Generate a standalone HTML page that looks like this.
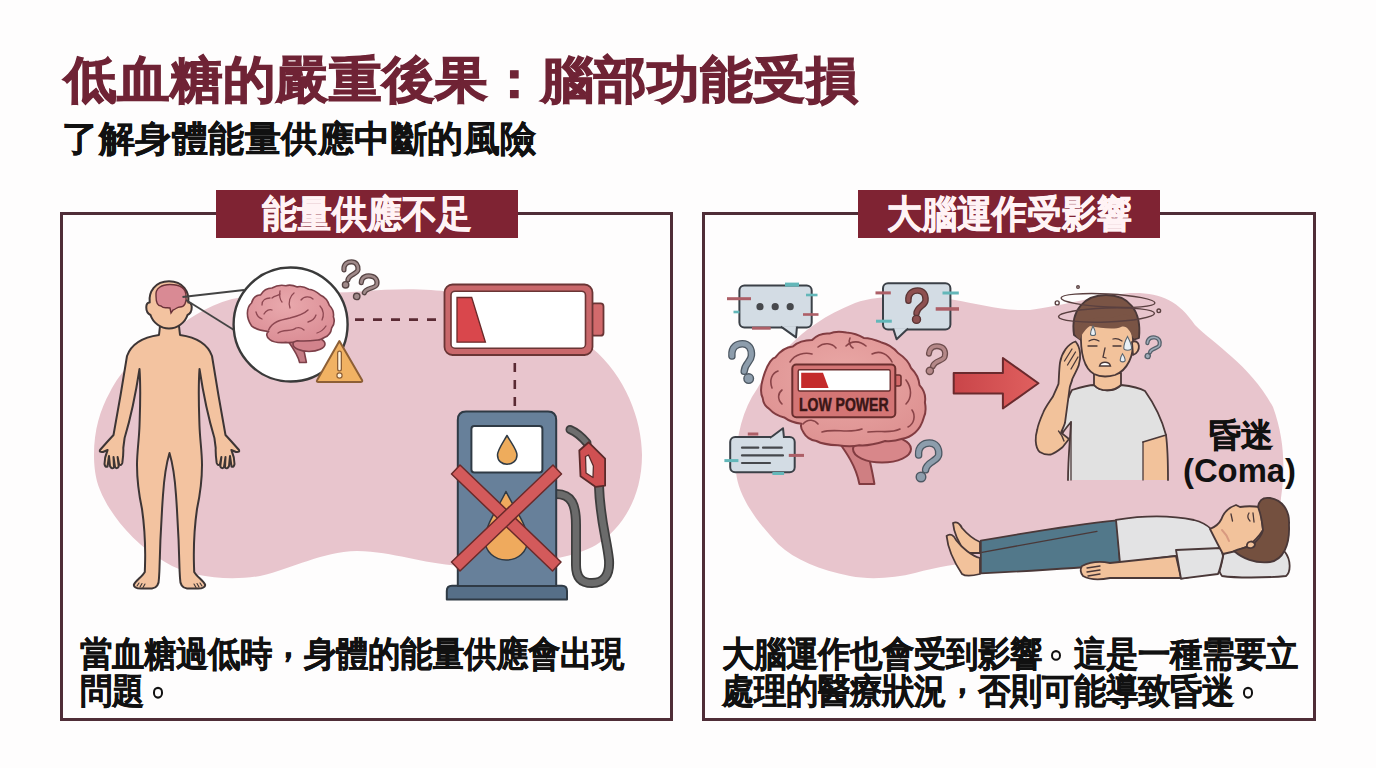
<!DOCTYPE html>
<html lang="zh-Hant"><head><meta charset="utf-8"><title>低血糖的嚴重後果</title>
<style>
html,body{margin:0;padding:0;}
body{width:1376px;height:768px;overflow:hidden;position:relative;background:#fefdfd;font-family:"Liberation Sans",sans-serif;font-weight:bold;}
.a{position:absolute;white-space:nowrap;}
#title{left:64px;top:49px;font-size:52.8px;line-height:64px;transform:scaleY(0.95);transform-origin:0 0;color:#6f2335;-webkit-text-stroke:1.2px #6f2335;}
#sub{left:62px;top:117px;font-size:36.3px;letter-spacing:0.5px;line-height:44px;color:#111;-webkit-text-stroke:0.45px #111;}
.panel{position:absolute;top:212px;height:503px;border:3px solid #4f2d37;}
#p1{left:60px;width:607px;}
#p2{left:702px;width:608px;}
.tab{position:absolute;top:190px;height:48px;width:302px;background:#7f2333;color:#fff3f5;font-size:35px;line-height:48px;text-align:center;-webkit-text-stroke:0.6px #fff3f5;}
.tab span{display:inline-block;transform:scaleY(1.09);}
#t1{left:216px;}
#t2{left:858px;}
.txt{position:absolute;font-size:32px;line-height:34.2px;color:#111;-webkit-text-stroke:0.4px #111;transform:scaleY(1.08);transform-origin:0 0;}
.pc{position:relative;top:-9px;}
.pd{display:inline-block;width:32px;height:0;position:relative;}
.pd::after{content:"";position:absolute;left:8.5px;top:-15px;width:6.4px;height:6.4px;border:2.8px solid #111;border-radius:50%;}
#x1{left:80px;top:636px;}
#x2{left:722px;top:636px;}
svg{position:absolute;left:0;top:0;}
</style></head><body>
<div class="a" id="title">低血糖的嚴重後果：腦部功能受損</div>
<div class="a" id="sub">了解身體能量供應中斷的風險</div>
<div class="panel" id="p1"></div>
<div class="panel" id="p2"></div>
<svg id="ill" width="1376" height="768" viewBox="0 0 1376 768">

<defs>
<linearGradient id="arrowg" x1="0" x2="1" y1="0" y2="0"><stop offset="0" stop-color="#c94549"/><stop offset="1" stop-color="#e0605f"/></linearGradient>
</defs>
<!-- LEFT BLOB -->
<path id="blobL" fill="#e8c5cd" d="M94 455 C94 430 100 410 110 392 C120 372 140 350 165 335 C185 322 205 306 232 299 C270 292 320 294 360 291.5 C400 288 430 289 450 292 C520 302 560 320 592 348 C625 375 642 420 642 455 C642 500 620 530 596 545 C570 560 520 566 460 566 C420 563 395 552 357 551 C320 552 295 568 260 576 C230 581 190 578 165 562 C135 545 110 515 100 490 C95 478 94 465 94 455 Z"/>
<!-- RIGHT BLOB -->
<path id="blobR" fill="#e8c5cd" d="M736 472 C735 440 742 410 757 389 C765 375 775 362 790 345 C805 330 825 315 855 303 C880 294 920 296 952 299.5 C980 304 1000 311 1030 310 C1060 306 1090 297 1130 293 C1160 292 1178 300 1195 325 C1215 345 1250 365 1273 407 C1285 440 1285 470 1281 498 C1278 540 1270 560 1240 568 C1180 572 1060 566 990 563 C960 562 940 567 915 573 C895 578 870 580 850 576 C820 570 795 560 778 544 C755 520 738 495 736 472 Z"/>
<!-- BODY -->
<g stroke="#3d3535" stroke-width="2" stroke-linejoin="round" stroke-linecap="round">
<path fill="#f3c3a0" d="M160 326 L 159 335 C 145 337 132 342 127 356 C 124 375 119 405 113.5 435 L 108 441 L 100 450 Q 99 452.5 103 452 L 107.6 450 C 105.5 455 104.5 461 104.5 464 Q 105 467.5 107.5 466.5 L 109 456 L 110 466 Q 111.5 469.5 114 467.5 L 113.5 457 L 115 467 Q 117 469.5 118.7 466.5 L 117.6 457 L 119 464 Q 121 466.5 122.3 463 C 123 458 123.5 452 123.3 448 L 124.6 438 C 130 420 136 392 139.5 369 C 141 390 140 410 139.5 426 C 139 440 137 452 137 465 C 137 480 139 495 142 509 C 145 530 145.5 550 145 566 L 144.8 572 C 142 577 135 581 133.8 585 C 134 588 137 588.5 141 588.5 L 152 588.5 C 157 588 159 584 159 578 L 159.4 571 C 160 545 161 523 163 495 C 164 480 165 468 169.5 453 C 174 468 175 480 176 495 C 178 523 179 545 179.6 571 L 180 578 C 180 584 182 588 187 588.5 L 198 588.5 C 202 588.5 205 588 205.2 585 C 204 581 197 577 194.2 572 L 194 566 C 193.5 550 194 530 197 509 C 200 495 202 480 202 465 C 202 452 200 440 199.5 426 C 199 410 198 390 199.5 369 C 203 392 209 420 214.4 438 L 215.7 448 C 215.5 452 216 458 216.7 463 Q 218 466.5 220 464 L 221.4 457 L 220.3 466.5 Q 222 469.5 224 467 L 225.5 457 L 225 467.5 Q 227.5 469.5 229 466 L 230 456 L 231.5 466.5 Q 234 467.5 234.5 464 C 234.5 461 233.5 455 231.4 450 L 236 452 Q 240 452.5 239 450 L 231 441 L 225.5 435 C 220 405 215 375 212 356 C 207 342 194 337 180 335 L 179 326 Z"/>
<g stroke-width="1.1" fill="none"><path d="M137 586 L139 583"/><path d="M140 587 L142 583.5"/><path d="M143 587.5 L145 584"/><path d="M202 586 L200 583"/><path d="M199 587 L197 583.5"/><path d="M196 587.5 L194 584"/></g>
<path fill="#f3c3a0" d="M169 281.3 C183 281.3 189.5 292 188.3 302.5 C192.5 301.5 193.5 312 187.5 315 C185 323 177 328.5 169 328.5 C161 328.5 153 323 150.5 315 C144.5 312 145.5 301.5 149.7 302.5 C148.5 292 155 281.3 169 281.3 Z"/>
</g>
<path fill="#d98a94" stroke="#6a3238" stroke-width="1.4" d="M156 296 C155 288 162 284.5 170 284.5 C180 284.5 186 288 186 296 C187 303 184 307 180 307 C177 307 176 309 173 310 L171 313 L170 308 C166 307 164 309 161 306 C158 306 156 302 156 296 Z"/>
<g stroke="#444" stroke-width="1.8" fill="none"><path d="M182.5 297 L244 290"/><path d="M186 300 L234 330"/></g>
<!-- MAGNIFIER -->
<circle cx="290.6" cy="324.5" r="57" fill="#fff" stroke="#3a3a3a" stroke-width="2.4"/>
<defs><radialGradient id="bg1" cx="0.45" cy="0.35" r="0.7"><stop offset="0" stop-color="#e9a9ad"/><stop offset="1" stop-color="#da8c94"/></radialGradient>
<radialGradient id="bg2" cx="0.5" cy="0.4" r="0.7"><stop offset="0" stop-color="#eaa9a7"/><stop offset="1" stop-color="#dc8e8e"/></radialGradient></defs>
<g stroke="#7d4049" stroke-width="1.6" stroke-linejoin="round">
<path fill="#c57c85" d="M288 341 C293 348 298 355 299.6 362.5 L306.4 362.5 C305 355 303 348 303 341 Z"/>
<ellipse cx="309" cy="344" rx="16" ry="7.5" fill="#d2838c"/>
<path fill="url(#bg1)" d="M251.5 325.8 C246 318 246 308 251.5 303 C253 297 257 295 260.6 294.9 C264 289 268 288 272 288 C277 285 282 285 285.8 285.7 C290 284.5 294 285.5 297.3 286.9 C301 286 305 287 308.7 289.2 C313 289.5 317 292 320.2 294.9 C325 297 328 301 329.3 305.2 C333 309 334 313 333.4 316.7 C335 321 334 325 331.6 328.1 C331 333 328 336 324.8 337.3 C322 339 320 340 318 340 C310 341 304 341.5 297.3 340.7 C293 342.5 289 343 285.8 342.4 C279 343 273 342 269.8 339.6 C266 337 266 333 268.6 331.5 C262 331 256 329.5 251.5 325.8 Z"/>
</g>
<g stroke="#8e4852" stroke-width="1.3" fill="none" stroke-linecap="round">
<path d="M268.6 330 C272 322 280 320 290 318 C298 316 304 314 308 310" stroke-width="1.5"/>
<path d="M262 305 C262 300 266 298 270 298"/><path d="M256 312 C257 316 259 318 262 319"/>
<path d="M264 314 C266 310 270 309 272 310"/><path d="M280 291 C279 295 280 300 282 302"/>
<path d="M290 308 C288 302 290 296 294 293"/><path d="M301 300 C304 296 310 296 313 299"/>
<path d="M320 306 C324 310 324 316 322 320"/><path d="M308 322 C312 321 315 318 316 315"/>
<path d="M278 333 C283 329 292 332 296 328 C299 327 302 328 304 330"/><path d="M317 333 C320 332 324 329 326 326"/>
<path d="M272 298 C275 295 278 296 280 294"/>
</g>
<!-- warning -->
<path d="M339.4 341 L362 380 Q363 382 360.5 382 L318.5 382 Q316 382 317.2 380 Z" fill="#f1b263" stroke="#8d5f36" stroke-width="2" stroke-linejoin="round"/>
<path d="M339.5 353 L339.5 369" stroke="#8d5f36" stroke-width="5" stroke-linecap="round"/>
<path d="M339.5 353 L339.5 369" stroke="#fff4e0" stroke-width="2.4" stroke-linecap="round"/>
<circle cx="339.5" cy="375.5" r="2.6" fill="#fff4e0" stroke="#8d5f36" stroke-width="1.2"/>
<!-- question marks left -->
<g><path d="M343.9 269.9 C343.4 263.7 347.9 261.8 351.5 261.8 C356.0 261.8 358.3 265.1 358.0 269.6 C357.6 274.0 348.4 274.5 347.9 279.9" fill="none" stroke="#574545" stroke-width="5.2" stroke-linecap="round" stroke-linejoin="round"/><path d="M343.9 269.9 C343.4 263.7 347.9 261.8 351.5 261.8 C356.0 261.8 358.3 265.1 358.0 269.6 C357.6 274.0 348.4 274.5 347.9 279.9" fill="none" stroke="#a08a8a" stroke-width="2.6" stroke-linecap="round" stroke-linejoin="round"/><circle cx="345.6" cy="284.8" r="3.2" fill="#a08a8a" stroke="#574545" stroke-width="1.4"/></g><g transform="rotate(8 368.0 288.0)"><path d="M360.6 283.6 C360.0 277.6 365.0 275.8 369.0 275.8 C374.0 275.8 376.6 278.9 376.2 283.3 C375.8 287.5 365.6 288.0 365.0 293.2" fill="none" stroke="#574545" stroke-width="5.2" stroke-linecap="round" stroke-linejoin="round"/><path d="M360.6 283.6 C360.0 277.6 365.0 275.8 369.0 275.8 C374.0 275.8 376.6 278.9 376.2 283.3 C375.8 287.5 365.6 288.0 365.0 293.2" fill="none" stroke="#a08a8a" stroke-width="2.6" stroke-linecap="round" stroke-linejoin="round"/><circle cx="358.0" cy="297.9" r="3.2" fill="#a08a8a" stroke="#574545" stroke-width="1.4"/></g>
<!-- dashes -->
<path d="M355 319.6 L437 319.6" stroke="#5a2a33" stroke-width="2.6" stroke-dasharray="9 9"/>
<path d="M514.8 363 L514.8 406" stroke="#5a2a33" stroke-width="2.6" stroke-dasharray="9 8"/>
<!-- battery -->
<rect x="591" y="303.4" width="12.5" height="32.3" rx="3" fill="#d26a6c" stroke="#6a3535" stroke-width="1.8"/>
<rect x="444.5" y="284.5" width="148" height="70.5" rx="8" fill="#c9686b" stroke="#6a3535" stroke-width="1.8"/>
<rect x="451" y="291.2" width="134.5" height="57" rx="4" fill="#fff" stroke="#6a3535" stroke-width="1.6"/>
<path d="M457 297.5 L471.7 297.5 L485.4 342.2 L457 342.2 Z" fill="#d9474c" stroke="#6a2a2a" stroke-width="1.3"/>
<!-- gas pump -->
<g stroke="#2f3a45" stroke-width="2" stroke-linejoin="round">
<path d="M556 494 C572 494 576 505 576 525 L576 565 C576 578 582 583 592 583 C604 583 610 575 609 560 C607 540 600 520 599 486" fill="none" stroke="#3e3e3e" stroke-width="10" stroke-linecap="round"/>
<path d="M556 494 C572 494 576 505 576 525 L576 565 C576 578 582 583 592 583 C604 583 610 575 609 560 C607 540 600 520 599 486" fill="none" stroke="#6b6b6b" stroke-width="6.5" stroke-linecap="round"/>
<path d="M570 429.5 C576 432 582 437 587 443" fill="none" stroke="#3e3e3e" stroke-width="9" stroke-linecap="round"/>
<path d="M570 429.5 C576 432 582 437 587 443" fill="none" stroke="#6e6e6e" stroke-width="5.5" stroke-linecap="round"/>
<path d="M579.3 450.5 L588.7 442.3 L605.1 458.7 L605.1 485.7 L595.7 486.9 L580.5 476.3 Z" fill="#cf5052" stroke="#5a2a2a" stroke-width="1.8"/>
<path d="M585.5 456.5 L588.5 455 L593.4 466 L593 477.5 L586 473 Z" fill="#f6eded" stroke="#5a2a2a" stroke-width="1.3"/>
<path d="M446.8 599.5 L446.8 591 Q446.8 585.8 452 585.8 L562 585.8 Q567 585.8 567 591 L567 599.5 Z" fill="#566f88"/>
<path d="M457.8 586 L457.8 420 Q457.8 411.5 466 411.5 L548 411.5 Q556.2 411.5 556.2 420 L556.2 586 Z" fill="#67809a"/>
<rect x="471.4" y="426" width="71" height="46.4" rx="3" fill="#fff"/>
<path d="M507 435.5 C502 444 497.5 450 497.5 455 C497.5 461 502 464.2 507 464.2 C512 464.2 517 461 517 455 C517 450 512 444 507 435.5 Z" fill="#eeac5c" stroke-width="1.5"/>
<path d="M506 491.5 C497 510 485 525 485 540 C485 552 495 560 506 560 C518 560 527.5 552 527.5 540 C527.5 525 515 510 506 491.5 Z" fill="#efaa5d" stroke-width="1.5"/>
<g fill="#d35a5b" stroke="#6a2a2a" stroke-width="1.5">
<path d="M451.5 474 L460 465 L561 562 L552.5 571 Z"/>
<path d="M553 465 L561.5 474 L460 571 L451.5 562 Z"/>
</g>
</g>

<rect x="739.4" y="285.6" width="72.30000000000007" height="42.0" rx="5" fill="#d3dce4" stroke="#3b4047" stroke-width="2"/><path d="" fill="#d3dce4" stroke="#3b4047" stroke-width="2" stroke-linejoin="round"/>
<path d="M781 326.6 L796 337.4 L797 326.6" fill="#d3dce4" stroke="#3b4047" stroke-width="2" stroke-linejoin="round"/><path d="M782.5 325.5 L795.5 325.5" stroke="#d3dce4" stroke-width="2.5"/>
<circle cx="760" cy="306.7" r="3.6" fill="#46484c"/>
<circle cx="775.2" cy="306.7" r="3.6" fill="#46484c"/>
<circle cx="790.2" cy="306.7" r="3.6" fill="#46484c"/>
<rect x="727" y="297.2" width="24" height="3" fill="#ad5f67"/>
<rect x="803" y="313.2" width="15.5" height="2.6" fill="#ad5f67"/>
<rect x="752" y="326.7" width="18.700000000000045" height="3" fill="#ad5f67"/>
<rect x="785" y="282.6" width="14" height="4" fill="#63b7b9"/>
<rect x="806" y="293.7" width="11.5" height="2.6" fill="#63b7b9"/>
<rect x="733.5" y="310.7" width="5.899999999999977" height="2.6" fill="#63b7b9"/>
<rect x="883" y="283.3" width="67.39999999999998" height="46.30000000000001" rx="5" fill="#d3dce4" stroke="#3b4047" stroke-width="2"/><path d="" fill="#d3dce4" stroke="#3b4047" stroke-width="2" stroke-linejoin="round"/>
<path d="M893.2 328.6 L896.6 339.3 L908 328.6" fill="#d3dce4" stroke="#3b4047" stroke-width="2" stroke-linejoin="round"/><path d="M894.5 327.5 L906.5 327.5" stroke="#d3dce4" stroke-width="2.5"/>
<g><path d="M908.4 300.7 C907.7 292.9 913.2 290.5 917.6 290.5 C923.1 290.5 926.0 294.6 925.5 300.4 C925.1 305.8 917.2 306.5 916.5 313.3" fill="none" stroke="#5a3535" stroke-width="6.5" stroke-linecap="round" stroke-linejoin="round"/><path d="M908.4 300.7 C907.7 292.9 913.2 290.5 917.6 290.5 C923.1 290.5 926.0 294.6 925.5 300.4 C925.1 305.8 917.2 306.5 916.5 313.3" fill="none" stroke="#8e5050" stroke-width="3.9" stroke-linecap="round" stroke-linejoin="round"/><circle cx="916.5" cy="319.4" r="4.0" fill="#8e5050" stroke="#5a3535" stroke-width="1.4"/></g>
<rect x="875.5" y="291.4" width="15.299999999999955" height="3" fill="#ad5f67"/>
<rect x="935.7" y="307.2" width="23.299999999999955" height="3.5" fill="#ad5f67"/>
<rect x="942.5" y="291.5" width="16.299999999999955" height="3" fill="#63b7b9"/>
<rect x="876" y="319.7" width="15.799999999999955" height="3" fill="#63b7b9"/>
<rect x="730.2" y="437" width="64.5" height="35.30000000000001" rx="5" fill="#d3dce4" stroke="#3b4047" stroke-width="2"/><path d="" fill="#d3dce4" stroke="#3b4047" stroke-width="2" stroke-linejoin="round"/>
<path d="M770 438 L783 428.2 L784 438" fill="#d3dce4" stroke="#3b4047" stroke-width="2" stroke-linejoin="round"/><path d="M771.5 439 L782.8 439" stroke="#d3dce4" stroke-width="2.5"/>
<g stroke="#46484c" stroke-width="2.2" stroke-linecap="round"><path d="M742 447.7 L758.3 447.7"/><path d="M763 447.7 L781.8 447.7"/><path d="M742 455.4 L783 455.4"/><path d="M742 463 L770 463"/></g>
<rect x="747.8" y="432.5" width="10.5" height="3" fill="#ad5f67"/>
<rect x="788.8" y="453.9" width="15.200000000000045" height="3" fill="#ad5f67"/>
<rect x="724.4" y="459.1" width="14.0" height="3" fill="#63b7b9"/>
<rect x="772.4" y="472.0" width="11.700000000000045" height="3" fill="#63b7b9"/>
<g><path d="M731.9 356.0 C731.1 346.6 737.4 343.7 742.4 343.7 C748.7 343.7 751.9 348.6 751.4 355.6 C750.9 362.2 744.9 363.0 744.2 371.2" fill="none" stroke="#4d5863" stroke-width="7.5" stroke-linecap="round" stroke-linejoin="round"/><path d="M731.9 356.0 C731.1 346.6 737.4 343.7 742.4 343.7 C748.7 343.7 751.9 348.6 751.4 355.6 C750.9 362.2 744.9 363.0 744.2 371.2" fill="none" stroke="#8d9dac" stroke-width="4.9" stroke-linecap="round" stroke-linejoin="round"/><circle cx="748.7" cy="378.6" r="4.8" fill="#8d9dac" stroke="#4d5863" stroke-width="1.4"/></g>
<g transform="rotate(12 935.2 360.2)"><path d="M927.7 355.1 C927.0 348.1 932.2 345.9 936.3 345.9 C941.4 345.9 944.1 349.6 943.7 354.8 C943.2 359.6 934.8 360.2 934.2 366.4" fill="none" stroke="#6d4d4d" stroke-width="6.0" stroke-linecap="round" stroke-linejoin="round"/><path d="M927.7 355.1 C927.0 348.1 932.2 345.9 936.3 345.9 C941.4 345.9 944.1 349.6 943.7 354.8 C943.2 359.6 934.8 360.2 934.2 366.4" fill="none" stroke="#b48888" stroke-width="3.4" stroke-linecap="round" stroke-linejoin="round"/><circle cx="932.2" cy="371.8" r="3.6" fill="#b48888" stroke="#6d4d4d" stroke-width="1.4"/></g>
<g><path d="M918.6 455.0 C917.9 445.8 924.3 443.0 929.4 443.0 C935.9 443.0 939.2 447.8 938.7 454.6 C938.2 461.0 926.4 461.8 925.6 469.8" fill="none" stroke="#4d5863" stroke-width="7.5" stroke-linecap="round" stroke-linejoin="round"/><path d="M918.6 455.0 C917.9 445.8 924.3 443.0 929.4 443.0 C935.9 443.0 939.2 447.8 938.7 454.6 C938.2 461.0 926.4 461.8 925.6 469.8" fill="none" stroke="#8d9dac" stroke-width="4.9" stroke-linecap="round" stroke-linejoin="round"/><circle cx="921.0" cy="477.0" r="4.8" fill="#8d9dac" stroke="#4d5863" stroke-width="1.4"/></g>
<g transform="rotate(10 1152.4 348.0)"><path d="M1146.6 344.1 C1146.1 338.8 1150.0 337.2 1153.2 337.2 C1157.1 337.2 1159.2 339.9 1158.9 343.9 C1158.6 347.5 1151.3 348.0 1150.8 352.6" fill="none" stroke="#56616b" stroke-width="4.2" stroke-linecap="round" stroke-linejoin="round"/><path d="M1146.6 344.1 C1146.1 338.8 1150.0 337.2 1153.2 337.2 C1157.1 337.2 1159.2 339.9 1158.9 343.9 C1158.6 347.5 1151.3 348.0 1150.8 352.6" fill="none" stroke="#9eabb8" stroke-width="1.6" stroke-linecap="round" stroke-linejoin="round"/><circle cx="1149.2" cy="356.7" r="2.6" fill="#9eabb8" stroke="#56616b" stroke-width="1.4"/></g>
<g stroke="#823c41" stroke-width="2" stroke-linejoin="round">
<path fill="#cf7f82" d="M838 441 C846 452 856 466 859.4 484 L874.4 484 C872 468 868 455 866 443 Z"/>
<ellipse cx="882" cy="449" rx="29" ry="13.5" fill="#d8878a"/>
<path fill="url(#bg2)" d="M762.7 398 C760 393 760 386 764.9 372.3 C768 364 772 358 775.6 357.2 C781 350 787 347 792.8 346.5 C799 341 806 340 812.1 340 C817 335 823 333 829.3 333.6 C835 331 841 331.5 846.5 332.5 C853 333 859 335 863.7 337.9 C870 338 876 340 880.9 342.2 C888 344 894 348 898 353 C904 357 909 362 911 368 C916 373 919 379 919.5 385.1 C924 390 926 396 924.9 402.3 C926 408 926 413 923.8 417.4 C922 424 919 429 915.2 432.4 C911 436 907 438 902.3 438.8 C896 441 890 441.5 885.2 441 C876 444 867 446 859.4 445.3 C852 447 845 446.5 837.9 445.3 C830 445 822 444 816.4 441 C810 440 806 437 803.5 432.4 C801 429 800.5 426 801.4 423.8 C795 423 789 421 784.2 417.4 C778 416 773 413 769.2 408.8 C765 406 763 402 762.7 398 Z"/>
</g>
<g stroke="#8a4448" stroke-width="1.6" fill="none" stroke-linecap="round">
<path d="M790 362 C795 354 805 352 812 354"/><path d="M818 347 C824 342 832 343 836 348"/><path d="M846 346 C852 340 860 341 866 346"/>
<path d="M872 354 C880 350 888 354 892 362"/><path d="M772 388 C769 380 772 373 778 371"/><path d="M782 404 C777 399 778 393 782 390"/>
<path d="M906 380 C912 388 912 398 906 404"/><path d="M912 410 C916 416 914 424 908 427"/>
<path d="M803 424 C808 418 815 420 818 424"/><path d="M822 432 C835 428 848 434 862 429"/><path d="M868 432 C880 430 890 434 900 429"/>
<path d="M850 338 C848 342 850 346 853 348"/>
</g>
<rect x="893" y="375" width="8" height="11" rx="2" fill="#d36a6a" stroke="#6a2e2e" stroke-width="1.5"/>
<rect x="792.3" y="364.5" width="103" height="52.7" rx="4" fill="#d47575" stroke="#6a2e2e" stroke-width="2"/>
<rect x="798.2" y="369.7" width="92" height="21.3" rx="1.5" fill="#fff" stroke="#6a2e2e" stroke-width="1.4"/>
<path d="M801.2 372.7 L823 372.7 L828.6 388 L801.2 388 Z" fill="#c42b2b"/>
<text x="799" y="411.4" font-family="'Liberation Sans', sans-serif" font-weight="bold" font-size="17.5" fill="#3a1616" stroke="#3a1616" stroke-width="0.5" textLength="89.5" lengthAdjust="spacingAndGlyphs">LOW POWER</text>
<path d="M953.7 373 L1002.9 373 L1002.9 358 L1038.4 383.3 L1002.9 408.5 L1002.9 393.4 L953.7 393.4 Z" fill="url(#arrowg)" stroke="#6a2a2d" stroke-width="2" stroke-linejoin="round"/>
<g stroke="#4a3838" stroke-width="1.8" stroke-linejoin="round" stroke-linecap="round">
<path fill="#f2c29b" stroke="none" d="M1143 441 L1166 435 C1168 450 1168 465 1168 480 L1143 480 Z"/><path fill="none" d="M1166 435 C1168 450 1168 465 1168 480"/>
<path fill="#e1e1e1" stroke="none" d="M1072 390 C1085 386 1092 385 1094 385 C1100 392 1114 392 1121 385 C1130 386 1140 388 1145 391 C1155 405 1162 420 1166 435 L1143 442 L1143 480 L1068 480 C1068 460 1070 440 1071 422 C1066 428 1063 432 1062 434 C1062 420 1066 400 1072 390 Z"/>
<path fill="none" d="M1068 480 C1068 460 1070 440 1071 422 C1066 428 1063 432 1062 434 C1062 420 1066 400 1072 390 C1085 386 1092 385 1094 385 C1100 392 1114 392 1121 385 C1130 386 1140 388 1145 391 C1155 405 1162 420 1166 435 L1143 442"/>
<path fill="#f2c29b" d="M1094 373 L1094 385 C1100 392 1114 392 1121 385 L1121 373 Z"/>
<path fill="#7a5445" d="M1074 335 C1070 310 1085 295 1106 295 C1128 295 1142 310 1139 338 L1133 340 L1081 340 Z"/>
<path fill="#f2c29b" d="M1081 330 C1081 320 1095 322 1105 324 C1115 326 1122 318 1126 322 C1130 325 1133 330 1133 340 C1134 355 1128 370 1115 375 C1108 377 1100 377 1094 374 C1085 369 1080 355 1081 330 Z"/>
<path fill="#f2c29b" d="M1132 342 C1140 338 1142 352 1133 355 Z"/>
<path fill="#7a5445" stroke="none" d="M1076 336 C1078 322 1090 316 1105 318 C1115 319 1122 312 1130 316 C1136 320 1138 330 1137 338 L1133 338 C1130 330 1126 325 1121 327 C1115 330 1100 328 1090 326 C1084 330 1081 336 1080 340 Z"/>
<path fill="#f2c29b" d="M1075.5 341.5 C1068 344 1062 352 1060 362.6 C1059 370 1059 378 1058.5 383.8 C1056 390 1054 394 1052.8 396.8 C1048 404 1045 408 1043 413 C1040 420 1038 425 1037.3 429.3 C1036 434 1035.5 437 1035.7 440.7 C1036 446 1037.5 450 1039.8 452 C1043 454 1047 455 1051 454.5 C1055 453 1059 450 1062.5 447.2 L1069 439 L1061 432.6 C1063 428 1064.5 425 1065 422.8 L1069.8 387 C1071 383 1072 381 1072.3 379 C1075 373 1078 368 1078.8 365 C1081 358 1081 348 1075.5 341.5 Z"/>
</g>
<g stroke="#4a3838" stroke-width="1.3" fill="none" stroke-linecap="round">
<path d="M1072 349 L1064.5 361"/><path d="M1075.5 352 L1067.5 365"/><path d="M1078 357 L1071 369"/><path d="M1058.5 431 C1061 434 1063 437 1064 441"/>
<path d="M1089 341 C1092 339 1096 339 1099 341"/><path d="M1113 339 C1116 338 1119 339 1122 341"/>
<path d="M1088 346 L1097 346"/><path d="M1113 346 L1121 346"/>
<path d="M1105 348 L1103 357 L1106 358"/>
<path d="M1071 480 L1071 422"/><path d="M1143 480 L1143 442"/>
</g>
<path d="M1099.5 366 C1101 361 1109 361 1110.5 366 Z" fill="#fff" stroke="#4a3838" stroke-width="1.3"/>
<g fill="#e9f0f6" stroke="#5a6670" stroke-width="1.1">
<path d="M1093 326 C1091 330 1090.5 332 1090.5 334 C1090.5 336 1095.5 336 1095.5 334 C1095.5 332 1095 330 1093 326 Z"/>
<path d="M1127.5 336.5 C1124 343 1123.8 346 1123.8 348 C1123.8 351 1131.6 351 1131.6 348 C1131.6 346 1131 343 1127.5 336.5 Z"/>
<path d="M1122.5 353.7 C1120.5 357 1120.2 359 1120.2 360 C1120.2 362.5 1125.2 362.5 1125.2 360 C1125.2 359 1124.8 357 1122.5 353.7 Z"/>
</g>
<g fill="none" stroke="#5a4040" stroke-width="1.4">
<ellipse cx="1108" cy="300.5" rx="47" ry="6.5" transform="rotate(3 1108 300.5)"/>
<ellipse cx="1106.5" cy="315" rx="48" ry="7" transform="rotate(-2 1106.5 315)"/>
<circle cx="1057.2" cy="302.9" r="2"/><circle cx="1158.8" cy="310.8" r="1.8"/><circle cx="1078" cy="287" r="1.3"/>
</g>

<g stroke="#4a3838" stroke-width="1.8" stroke-linejoin="round" stroke-linecap="round">
<path fill="#e3e3e4" d="M1219.5 551 C1240 548 1270 548 1285 552 C1291 560 1291 572 1286 576 C1265 578 1235 578 1222 576 C1217 570 1217 558 1219.5 551 Z"/>
<path fill="#f2c29b" d="M953 523 C957 521 960 524 962 528 C968 535 975 540 980 542 L980 553 L966 553 C960 545 954 535 953 523 Z"/>
<path fill="#f2c29b" d="M946.6 536 C950 533 954 535 956 540 C962 548 972 556 980 558 L980 574 C972 576 966 577 962 574 C956 565 948 550 946.6 536 Z"/>
<path fill="#52788a" d="M980.8 540.7 C1030 532 1080 524 1117 520.3 L1120 564 C1080 568 1030 571 980.8 573.4 Z"/>
<path fill="#e3e3e4" d="M1116 519.8 C1140 516 1170 515 1194 520 C1202 522 1208 526 1211 529 L1223.5 554 C1222 562 1220 570 1219 572 L1181 578.7 L1176 556 L1120 563 Z"/>
<path fill="#f2c29b" d="M1082 566 C1090 562 1100 561 1110 563 L1176 556 L1181 578 L1110 578 C1100 580 1090 580 1083 576 C1080 572 1080 569 1082 566 Z"/>
<path fill="#e3e3e4" d="M1176 550 L1221 548 L1223 556 C1221 565 1219 572 1218 574 L1181 578.7 Z"/>
<path fill="#f2c29b" d="M1210 529 C1215 527 1219 524 1221.5 519 C1224 512 1230 507 1236 505 L1240 507 C1246 506 1253 506 1260 507 L1263 530 C1258 538 1252 543 1248 546 L1236 551 L1223 554 C1218 545 1214 537 1210 529 Z"/>
<path fill="#74503f" d="M1258 507 C1259 500 1263 497 1270 498 C1282 500 1290 510 1289 525 C1290 545 1283 560 1270 562 C1255 564 1242 558 1234 551 C1240 548 1247 548 1252 545 C1258 540 1262 535 1263 530 C1262 520 1260 512 1258 507 Z"/>
<path fill="#f2c29b" d="M1247 547 C1246 541 1253 540 1255 544 C1255 548 1250 549 1247 547 Z"/>
</g>
<g stroke="#4a3838" stroke-width="1.3" fill="none" stroke-linecap="round">
<path d="M982 552.3 L1097 531.3"/>
<path d="M1231 514 L1232.5 521"/><path d="M1249 513 C1247 516 1248 519 1250 521"/><path d="M1253 513 L1254 522"/><path d="M1222 530 C1226 534 1228 538 1229 541" stroke="#d89a80" stroke-width="2"/>
<path d="M1087 568 L1100 566"/><path d="M1087 572 L1100 570"/><path d="M1088 576 L1100 574"/>
</g>
<text x="1209" y="446" font-size="31.5" font-weight="bold" fill="#111" stroke="#111" stroke-width="0.6" font-family="'Liberation Sans', sans-serif">昏迷</text>
<text x="1183" y="482" font-size="33" font-weight="bold" fill="#111" font-family="'Liberation Sans', sans-serif" textLength="113" lengthAdjust="spacingAndGlyphs">(Coma)</text>

</svg>
<div class="tab" id="t1"><span>能量供應不足</span></div>
<div class="tab" id="t2"><span>大腦運作受影響</span></div>
<div class="txt a" id="x1">當血糖過低時<span class="pc">，</span>身體的能量供應會出現<br>問題<span class="pd"></span></div>
<div class="txt a" id="x2">大腦運作也會受到影響<span class="pd"></span>這是一種需要立<br>處理的醫療狀況<span class="pc">，</span>否則可能導致昏迷<span class="pd"></span></div>
</body></html>
